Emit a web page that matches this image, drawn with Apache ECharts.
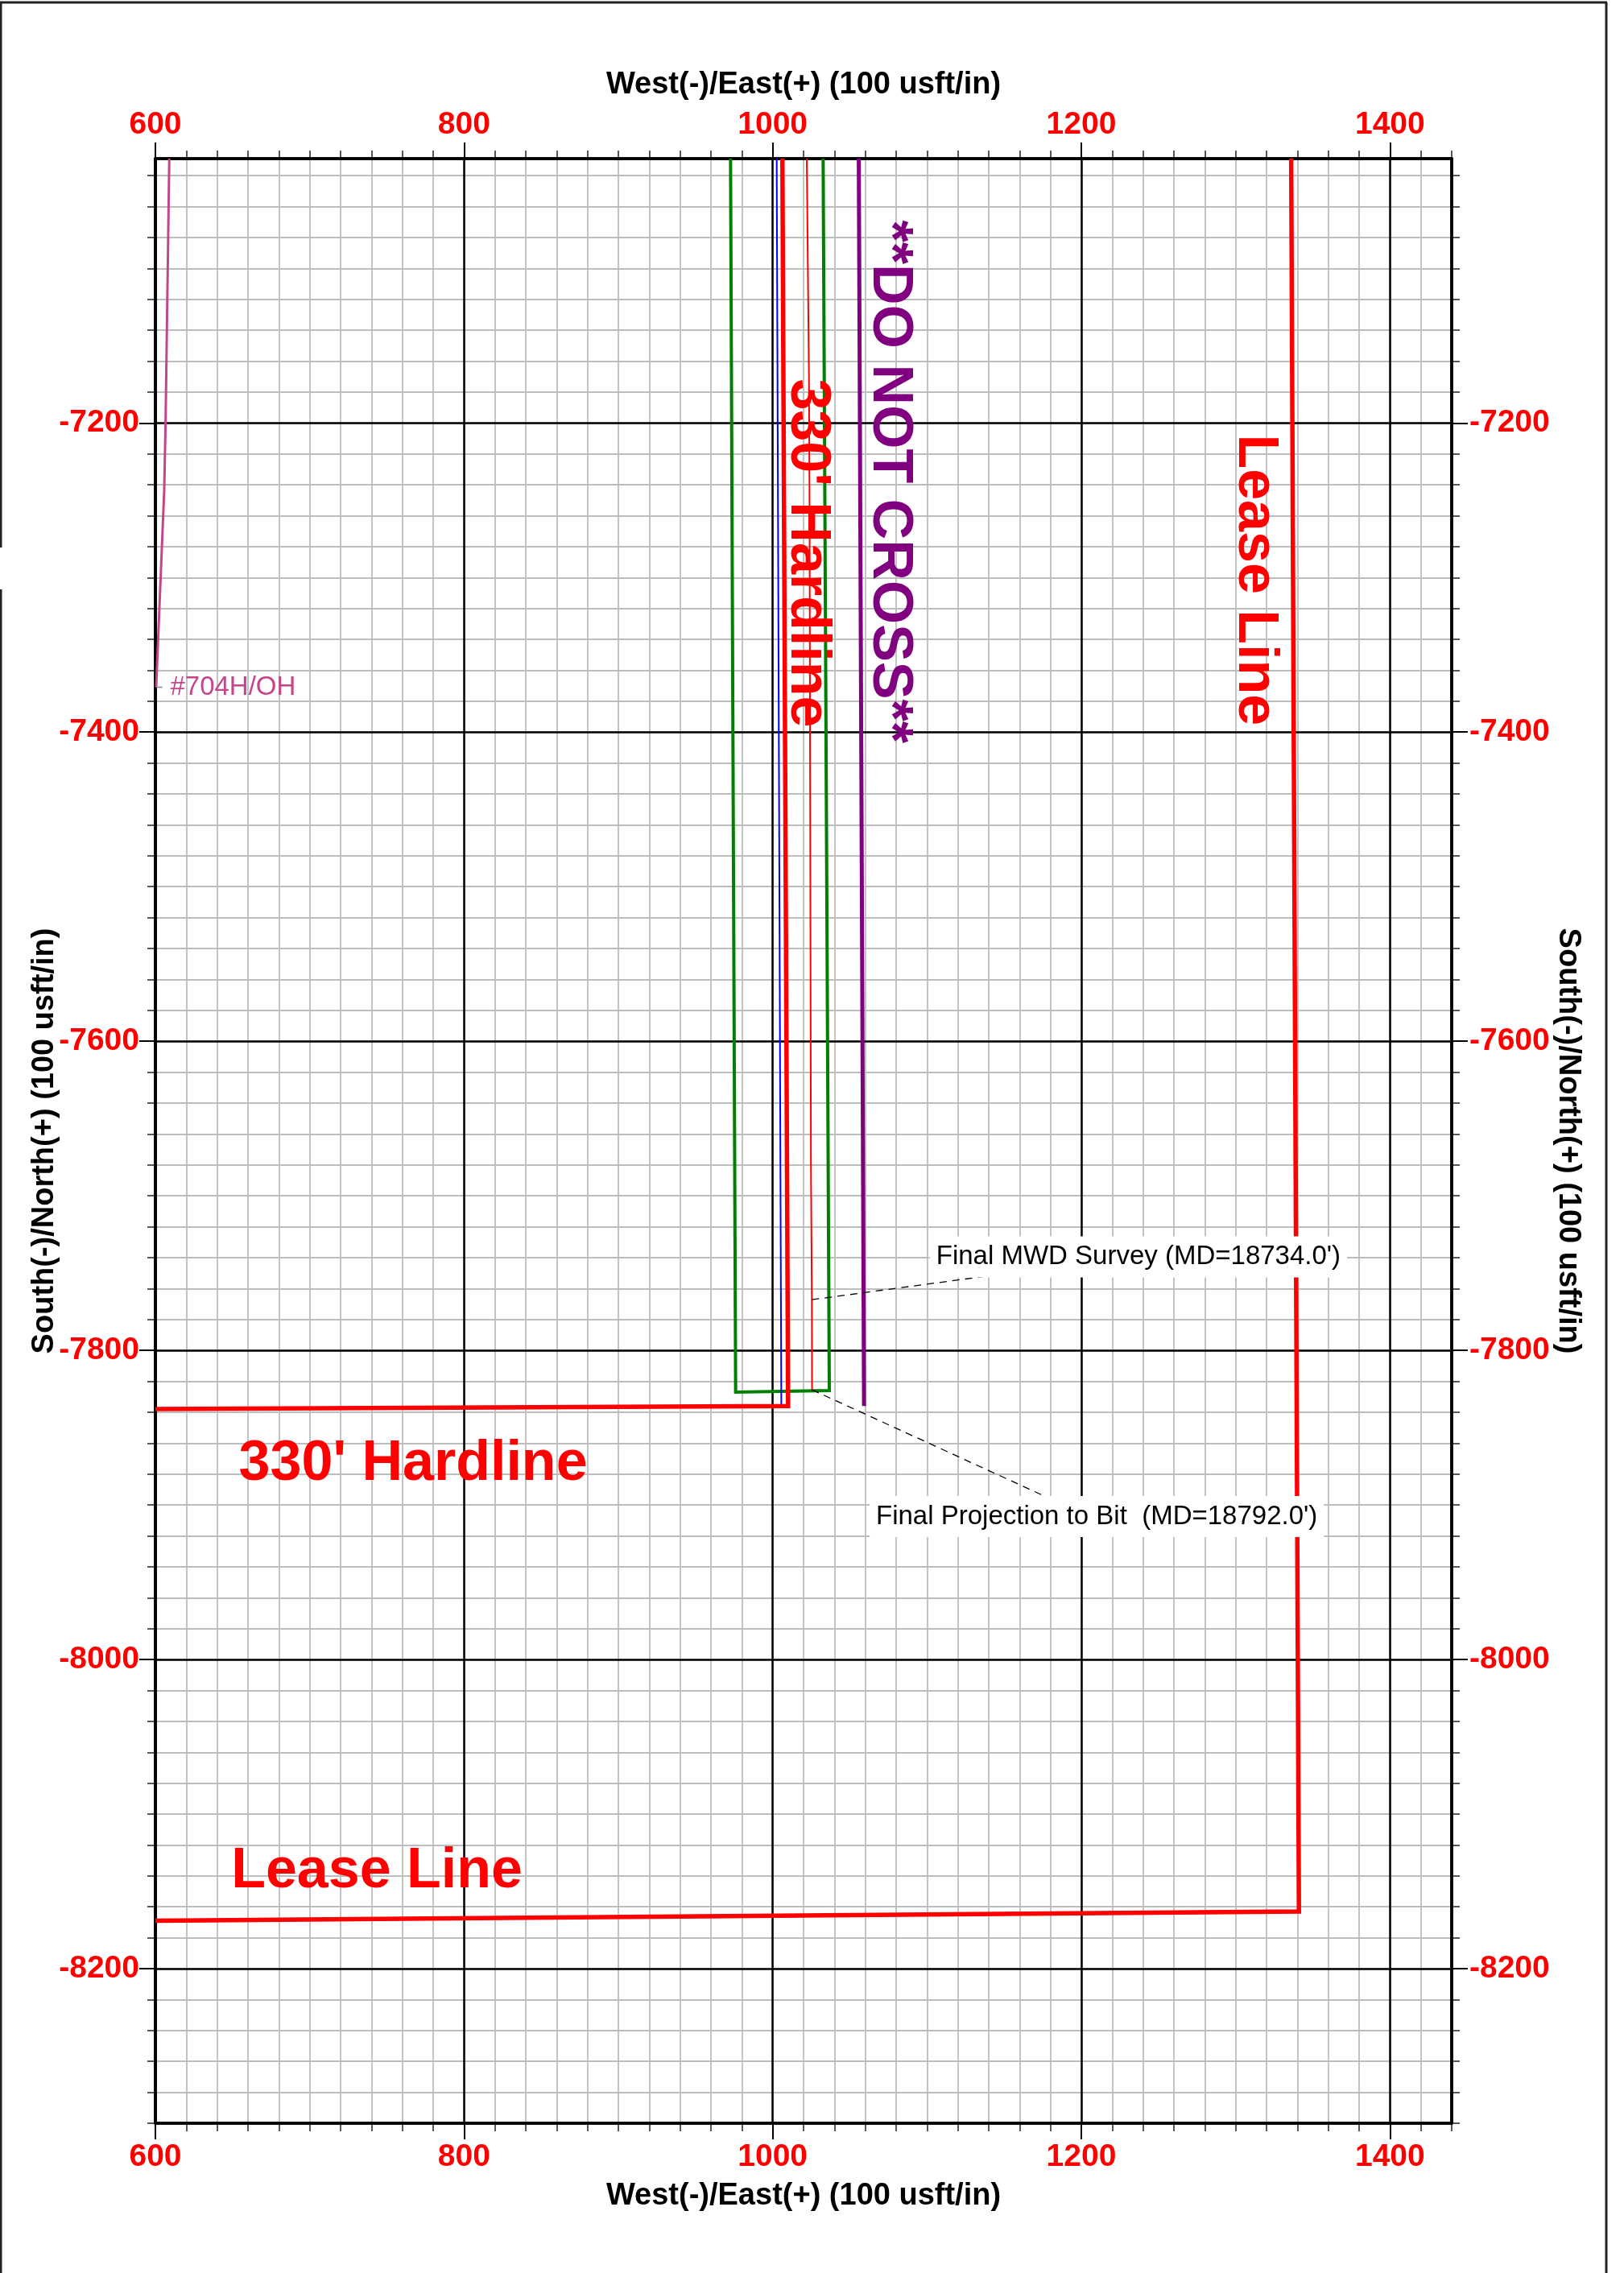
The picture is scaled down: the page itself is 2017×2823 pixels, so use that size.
<!DOCTYPE html>
<html>
<head>
<meta charset="utf-8">
<script src="https://cdn.jsdelivr.net/npm/echarts@6/dist/echarts.min.js"></script>
<style>
html,body{margin:0;padding:0;background:#fff;}
#chart{width:2017px;height:2823px;}
</style>
</head>
<body>
<div id="chart"></div>
<script>
// ---------- axis ranges and tick labels ----------
const xRange = [600, 1440];
const yRange = [-8300, -7029];
const xMajorTicks = [600, 800, 1000, 1200, 1400];
const yMajorTicks = [-8200, -8000, -7800, -7600, -7400, -7200];
const minorStep = 20;

// ---------- series values (West(-)/East(+), South(-)/North(+)) ----------
const leaseLineX = [1336, 1341, 600];
const leaseLineY = [-7029, -8163, -8169];

const hardlineX = [1006.3, 1010, 600];
const hardlineY = [-7029, -7836, -7838];

const targetBoxX = [972.7, 976, 1036.7, 1032.7];
const targetBoxY = [-7029, -7827, -7826, -7029];

const planX = [1002.6, 1005.6];
const planY = [-7029, -7836];

const doNotCrossX = [1055.8, 1059.2];
const doNotCrossY = [-7029, -7836];

const surveyX = [1022.1, 1023.5, 1023.9, 1024.8, 1025.4, 1025.5];
const surveyY = [-7029, -7169, -7254, -7681, -7767.2, -7825.5];

const offsetWellX = [609, 606.6, 605.7, 600.5];
const offsetWellY = [-7029, -7200, -7244, -7371];
const offsetWellName = '#704H/OH';
const offsetTickX = [600.5, 604.5];
const offsetTickY = [-7371, -7371];

// leader lines: survey point -> annotation box
const mwdLeaderX = [1025.4, 1140.5];
const mwdLeaderY = [-7767.2, -7751.7];
const bitLeaderX = [1025.5, 1176];
const bitLeaderY = [-7825.5, -7894.2];

// annotation texts and their anchor (data coordinates)
const boxNotes = [
  { text: "Final MWD Survey (MD=18734.0')", x: 1237, y: -7739.5 },
  { text: "Final Projection to Bit  (MD=18792.0')", x: 1210, y: -7907.5 }
];
const bigNotes = [
  { text: "330' Hardline", x: 767, y: -7874, vertical: false, kind: 'red' },
  { text: "Lease Line", x: 743.5, y: -8137.5, vertical: false, kind: 'red' },
  { text: "330' Hardline", x: 1022.3, y: -7284.2, vertical: true, kind: 'red' },
  { text: "Lease Line", x: 1312.1, y: -7301.6, vertical: true, kind: 'red' },
  { text: "**DO NOT CROSS**", x: 1075.5, y: -7238, vertical: true, kind: 'purple' }
];

const axisTitleX = 'West(-)/East(+) (100 usft/in)';
const axisTitleY = 'South(-)/North(+) (100 usft/in)';

// ---------- helpers ----------
function stepValues(a, b, step) {
  const out = [];
  const start = Math.ceil(a / step) * step;
  for (let v = start; v <= b + 1e-9; v += step) out.push(v);
  return out;
}
const xMinorTicks = stepValues(xRange[0], xRange[1], minorStep);
const yMinorTicks = stepValues(yRange[0], yRange[1], minorStep);
const pair = (xs, ys) => xs.map((x, i) => [x, ys[i]]);

const BOLD = 'Liberation Sans, Arial, Helvetica, sans-serif';
const RED = '#ff0000';
const CLEAR = 'rgba(0,0,0,0)';

function minorAxis(position, isX) {
  return {
    type: 'value', position: position, z: 0,
    min: isX ? xRange[0] : yRange[0], max: isX ? xRange[1] : yRange[1],
    axisLine: { show: true, onZero: false, lineStyle: { color: '#000', width: 3.5 } },
    axisTick: { show: true, inside: false, length: 10, customValues: isX ? xMinorTicks : yMinorTicks,
                lineStyle: { color: '#222', width: 1.5 } },
    axisLabel: { show: false },
    splitLine: { show: position === 'bottom' || position === 'left', lineStyle: { color: '#bdbdbd', width: 1.8 } },
    minorTick: { show: false }, minorSplitLine: { show: false }
  };
}
function majorAxis(position, isX, margin, nameGap, nameRotate) {
  const majors = isX ? xMajorTicks : yMajorTicks;
  const a = {
    type: 'value', position: position, z: 1,
    min: isX ? xRange[0] : yRange[0], max: isX ? xRange[1] : yRange[1],
    axisLine: { show: true, onZero: false, lineStyle: { color: '#000', width: 3.5 } },
    axisTick: { show: true, inside: false, length: 20, customValues: majors,
                lineStyle: { color: '#000', width: 2 } },
    axisLabel: { show: true, customValues: majors, margin: margin, color: RED,
                 fontSize: 39, fontWeight: 'bold', fontFamily: BOLD,
                 formatter: v => String(v) },
    splitLine: { show: position === 'bottom' || position === 'left', lineStyle: { color: '#000', width: 2.5 } },
    name: isX ? axisTitleX : axisTitleY,
    nameLocation: 'middle', nameGap: nameGap, nameMoveOverlap: false,
    nameTextStyle: { color: '#000', fontSize: 38, fontWeight: 'bold', fontFamily: BOLD }
  };
  if (nameRotate !== undefined) a.nameRotate = nameRotate;
  return a;
}

function lineSeries(xs, ys, color, width, type) {
  return {
    type: 'line', data: pair(xs, ys), symbol: 'none', showSymbol: false,
    silent: true, animation: false, z: 5, clip: true,
    lineStyle: { color: color, width: width, type: type || 'solid', cap: 'butt', join: 'miter' }
  };
}

const bigNoteData = bigNotes.map(n => ({
  value: [n.x, n.y],
  label: {
    show: true, position: 'inside', formatter: n.text,
    rotate: n.vertical ? -90 : 0,
    color: n.kind === 'purple' ? '#800080' : RED,
    fontSize: 70, fontWeight: 'bold', fontFamily: BOLD
  }
}));
const boxNoteData = boxNotes.map(n => ({
  value: [n.x, n.y],
  label: {
    show: true, position: 'inside', formatter: n.text, color: '#000',
    fontSize: 33, fontFamily: BOLD,
    backgroundColor: '#fff', padding: [9, 8]
  }
}));

function textSeries(z, data, label) {
  const s = {
    type: 'scatter', z: z, silent: true, animation: false,
    symbolSize: 1, itemStyle: { color: CLEAR, opacity: 1 }, data: data
  };
  if (label) s.label = label;
  return s;
}

const option = {
  backgroundColor: '#fff',
  animation: false,
  grid: { left: 193, right: 214, top: 197, bottom: 186, containLabel: false },
  xAxis: [
    minorAxis('bottom', true),
    minorAxis('top', true),
    majorAxis('bottom', true, 23, 72),
    majorAxis('top', true, 22, 72)
  ],
  yAxis: [
    minorAxis('left', false),
    minorAxis('right', false),
    majorAxis('left', false, 20, 118),
    majorAxis('right', false, 22, 125, -90)
  ],
  series: [
    lineSeries(targetBoxX, targetBoxY, '#008000', 4),
    lineSeries(planX, planY, '#0000ff', 2),
    lineSeries(hardlineX, hardlineY, RED, 5.5),
    lineSeries(surveyX, surveyY, RED, 2),
    lineSeries(doNotCrossX, doNotCrossY, '#800080', 5),
    lineSeries(leaseLineX, leaseLineY, RED, 5.5),
    lineSeries(offsetWellX, offsetWellY, '#c4468a', 3),
    lineSeries(offsetTickX, offsetTickY, '#888888', 1.5),
    lineSeries(mwdLeaderX, mwdLeaderY, '#000', 1.3, [9, 7]),
    lineSeries(bitLeaderX, bitLeaderY, '#000', 1.3, [9, 7]),
    textSeries(8,
      [{ value: [offsetWellX[offsetWellX.length - 1], offsetWellY[offsetWellY.length - 1]] }],
      { show: true, position: 'right', distance: 17, formatter: offsetWellName,
        color: '#c4468a', fontSize: 33, fontFamily: BOLD }),
    textSeries(9, bigNoteData),
    textSeries(10, boxNoteData)
  ],
  graphic: [
    { type: 'line', silent: true, shape: { x1: 0, y1: 3, x2: 1996, y2: 3 }, style: { stroke: '#222', lineWidth: 3 } },
    { type: 'line', silent: true, shape: { x1: 1995, y1: 3, x2: 1995, y2: 2823 }, style: { stroke: '#222', lineWidth: 3 } },
    { type: 'line', silent: true, shape: { x1: 1, y1: 3, x2: 1, y2: 680 }, style: { stroke: '#222', lineWidth: 3 } },
    { type: 'line', silent: true, shape: { x1: 1, y1: 732, x2: 1, y2: 2823 }, style: { stroke: '#222', lineWidth: 3 } }
  ]
};

const chart = echarts.init(document.getElementById('chart'), null, { renderer: 'canvas', width: 2017, height: 2823 });
chart.setOption(option);
</script>
</body>
</html>
